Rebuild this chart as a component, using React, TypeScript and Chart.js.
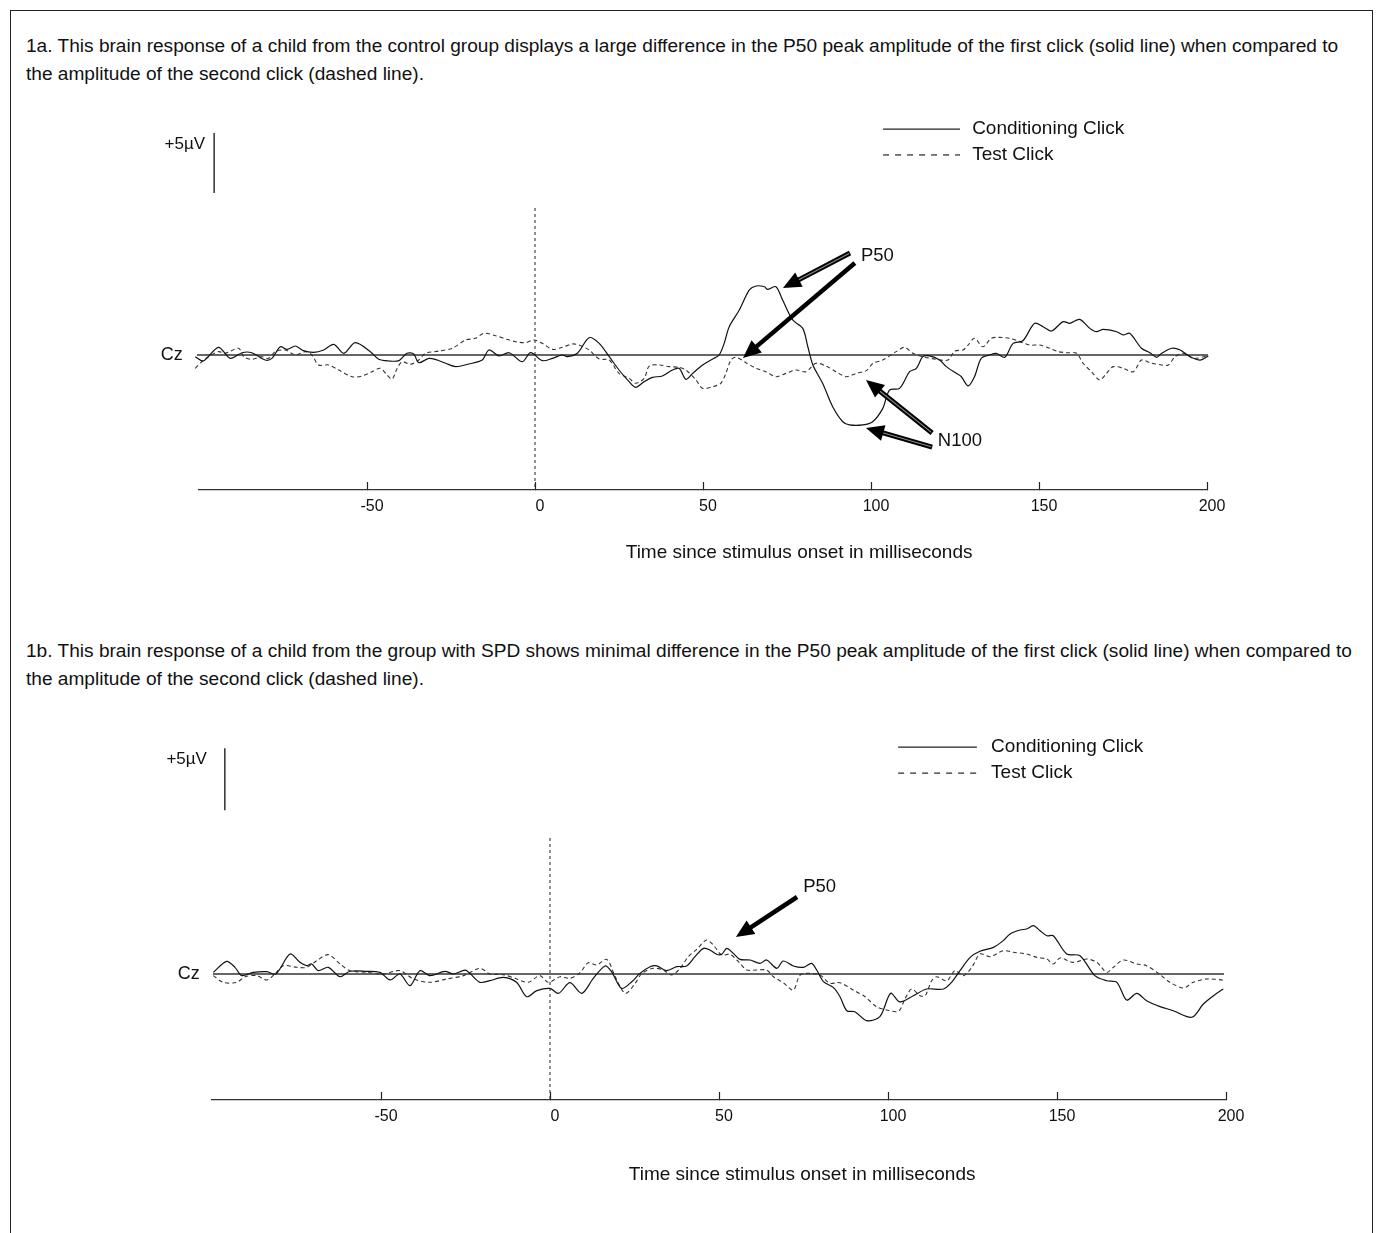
import React, { useEffect, useRef } from "react";
import { Chart, registerables } from "chart.js";

Chart.register(...registerables);

const FONT = '"Liberation Sans", Arial, sans-serif';

// ---------- data ----------
const tickValues = [-50, 0, 50, 100, 150, 200];
const seriesNames = ["Conditioning Click", "Test Click"];
const channelLabel = "Cz";
const scaleBarLabel = "+5\u00b5V";
const axisTitle = "Time since stimulus onset in milliseconds";

const captions1a = [
  "1a. This brain response of a child from the control group displays a large difference in the P50 peak amplitude of the first click (solid line) when compared to",
  "the amplitude of the second click (dashed line).",
];
const captions1b = [
  "1b. This brain response of a child from the group with SPD shows minimal difference in the P50 peak amplitude of the first click (solid line) when compared to",
  "the amplitude of the second click (dashed line).",
];

// [time ms, amplitude µV]
const conditioning1a: [number, number][] = [
  [-101.1, -0.14], [-98.7, -0.5], [-94.2, 0.64], [-90.7, -0.28], [-87.2, 0.19], [-84.3, 0.19],
  [-80.3, -0.42], [-78.3, -0.28], [-75.8, 0.69], [-73.8, 0.47], [-71.3, 0.75], [-68.9, 0.36],
  [-65.9, 0.22], [-62.9, 0.42], [-59.9, 0.89], [-56.9, 0.14], [-53.5, 1.03], [-49.0, 0.28],
  [-46.5, -0.36], [-43.5, -0.5], [-40.5, -0.47], [-38.1, 0.14], [-36.1, 0.08], [-34.6, -0.64],
  [-31.6, -0.28], [-29.1, -0.42], [-26.6, -0.69], [-23.6, -0.97], [-19.7, -0.75], [-15.7, -0.42],
  [-13.7, 0.42], [-10.7, -0.08], [-7.7, 0.19], [-3.8, -0.56], [-1.3, 0.19], [2.2, -0.47],
  [5.2, -0.28], [8.1, 0], [9.6, -0.14], [12.6, 0.14], [16.1, 1.44], [19.1, 0.97],
  [22.1, -0.14], [25.0, -1.25], [28.0, -2.22], [30.0, -2.69], [32.5, -2.22], [35.0, -1.86],
  [37.9, -1.75], [40.9, -1.25], [42.9, -1.11], [44.9, -2.03], [46.9, -1.53], [49.9, -0.83],
  [52.9, -0.33], [54.8, 0], [56.3, 0.97], [57.8, 2.36], [60.8, 3.75], [63.8, 5.42],
  [65.8, 5.75], [68.3, 5.69], [69.2, 5.47], [71.7, 5.69], [73.7, 4.58], [76.7, 2.92],
  [79.7, 2.22], [81.2, 0.69], [82.7, -0.83], [85.6, -2.36], [88.6, -4.31], [91.6, -5.56],
  [93.6, -5.83], [97.6, -5.83], [100.5, -5.56], [103.5, -4.45], [105.5, -2.92], [108.5, -2.78],
  [111.5, -1.39], [113.5, -1.11], [115.4, -0.14], [117.4, -0.08], [120.4, -0.42], [122.4, -0.97],
  [125.4, -1.53], [126.9, -1.81], [128.9, -2.58], [130.8, -1.81], [132.8, -0.28], [135.3, 0],
  [137.3, 0.14], [139.8, -0.19], [142.3, 0.97], [145.2, 1.19], [148.7, 2.64], [151.2, 2.36],
  [153.7, 2.0], [157.2, 2.78], [159.2, 2.64], [162.1, 2.97], [165.1, 2.22], [167.1, 1.94],
  [169.1, 2.14], [173.1, 1.94], [175.1, 1.67], [177.0, 1.81], [180.5, 0.56], [183.0, 0.19],
  [185.0, -0.19], [186.5, 0.14], [189.5, 0.56], [192.0, 0.42], [195.0, -0.14], [198.0, -0.42],
  [200.4, -0.08],
];

const test1a: [number, number][] = [
  [-101.1, -1.11], [-99.2, -0.56], [-97.2, -0.14], [-94.2, 0.28], [-92.2, 0.14], [-88.2, 0.56],
  [-86.7, -0.14], [-84.3, -0.36], [-81.3, -0.14], [-79.3, -0.28], [-77.3, 0.28], [-74.3, 0.42],
  [-71.3, 0], [-68.4, 0.28], [-66.4, 0], [-64.4, -0.83], [-61.4, -0.83], [-58.4, -1.25],
  [-54.4, -1.81], [-51.5, -1.75], [-48.5, -1.39], [-46.0, -1.11], [-44.0, -1.67], [-42.5, -2.0],
  [-41.0, -1.11], [-39.5, -0.56], [-37.1, -0.78], [-34.6, -0.42], [-32.6, 0.14], [-28.6, 0.33],
  [-24.6, 0.56], [-20.7, 1.25], [-17.7, 1.39], [-15.2, 1.81], [-11.7, 1.61], [-8.7, 1.33],
  [-5.8, 1.11], [-2.8, 1.03], [-0.3, 1.25], [2.2, 0.97], [5.2, 0.47], [8.1, 0.64],
  [11.1, 0.92], [13.1, 0.83], [16.1, 0.42], [19.1, -0.33], [22.1, -0.42], [25.0, -1.53],
  [28.0, -1.94], [30.0, -2.36], [32.5, -1.94], [34.0, -0.92], [37.0, -0.83], [39.9, -0.97],
  [42.9, -1.03], [44.9, -1.25], [47.9, -2.08], [49.9, -2.78], [52.9, -2.64], [55.3, -2.36],
  [56.8, -1.53], [58.3, -0.42], [59.8, -0.19], [62.8, -0.64], [65.8, -1.11], [68.7, -1.39],
  [71.7, -1.81], [74.7, -1.53], [77.7, -1.25], [80.7, -1.39], [83.6, -0.69], [86.6, -0.92],
  [89.6, -1.39], [92.6, -1.81], [95.6, -1.53], [98.6, -1.3], [100.6, -0.69], [103.5, -0.42],
  [107.5, 0.28], [110.0, 0.64], [112.5, 0.14], [115.4, -0.14], [119.4, -0.36], [122.9, -0.42],
  [124.9, 0.33], [127.4, 0.42], [128.9, 0.83], [130.8, 1.39], [133.3, 0.69], [135.8, 1.39],
  [138.3, 1.47], [141.3, 1.39], [144.3, 1.11], [147.2, 0.83], [150.2, 0.83], [153.2, 0.56],
  [155.7, 0.28], [158.2, 0.19], [161.2, 0.14], [163.1, -0.69], [165.6, -1.39], [168.1, -2.08],
  [170.1, -1.53], [172.1, -0.97], [175.1, -1.11], [178.1, -1.39], [180.5, -0.42], [183.0, -0.64],
  [186.5, -0.83], [188.5, -0.83], [190.5, -0.14], [193.0, 0.14], [196.0, -0.28], [200.0, -0.08],
];

const conditioning1b: [number, number][] = [
  [-99.6, 0.13], [-95.7, 1.02], [-93.2, 0.54], [-91.2, -0.13], [-87.8, 0.13], [-83.8, 0.19],
  [-81.1, 0], [-76.9, 1.61], [-74.0, 0.94], [-72.0, 0.67], [-70.5, 0.81], [-68.6, 0.27],
  [-65.6, 0.54], [-62.1, -0.22], [-59.2, 0.22], [-54.2, 0.22], [-50.3, 0.13], [-47.3, -0.48],
  [-44.4, 0], [-41.4, -0.94], [-38.5, 0.27], [-35.5, -0.13], [-31.1, 0.22], [-28.6, 0],
  [-25.1, 0.32], [-23.7, 0.05], [-20.7, -0.67], [-17.8, -0.54], [-13.8, -0.27], [-9.9, -0.67],
  [-6.9, -1.83], [-3.9, -1.34], [0, -1.16], [2.5, -1.56], [5.9, -0.7], [9.4, -1.56],
  [12.8, -0.35], [16.3, 0.65], [18.2, 0.19], [21.2, -1.16], [24.2, -0.62], [26.6, 0.05],
  [29.6, 0.59], [31.6, 0.65], [34.5, 0.27], [37.5, 0.59], [40.4, 0.65], [42.9, 1.4],
  [45.4, 2.07], [47.3, 1.94], [49.3, 1.59], [50.8, 1.59], [52.3, 2.07], [54.2, 1.67],
  [56.2, 1.18], [59.2, 1.13], [62.1, 0.86], [64.1, 1.13], [67.1, 0.46], [69.0, 1.05],
  [72.0, 0.65], [75.0, 0.54], [77.4, 0.86], [78.9, 0.32], [80.9, -0.62], [83.8, -1.08],
  [85.8, -1.83], [87.8, -2.96], [90.2, -3.04], [93.7, -3.76], [97.6, -3.44], [100.8, -1.56],
  [103.5, -2.25], [107.5, -1.75], [111.4, -1.21], [116.4, -1.21], [118.8, -0.67], [121.3, 0.27],
  [124.3, 1.34], [127.2, 1.83], [131.2, 2.15], [134.1, 2.69], [136.1, 3.23], [139.1, 3.55],
  [141.0, 3.63], [143.0, 3.9], [145.0, 3.49], [147.0, 3.09], [148.9, 3.09], [152.9, 1.61],
  [156.8, 1.48], [161.2, -0.13], [164.7, -0.54], [167.7, -0.67], [170.6, -2.1], [173.6, -1.56],
  [176.5, -2.15], [180.5, -2.63], [184.4, -2.96], [189.9, -3.49], [193.3, -2.42], [196.3, -1.75],
  [199.2, -1.21],
];

const test1b: [number, number][] = [
  [-99.6, -0.13], [-96.7, -0.67], [-92.7, -0.67], [-90.2, -0.22], [-86.8, -0.13], [-83.8, -0.48],
  [-81.4, 0], [-78.9, 0.67], [-74.9, 0.54], [-72.0, 0.54], [-69.0, 1.08], [-65.6, 1.56],
  [-62.1, 0.81], [-59.2, 0.27], [-54.2, 0.13], [-49.3, 0], [-44.4, 0.27], [-40.4, -0.4],
  [-35.5, -0.67], [-30.6, -0.4], [-25.6, -0.13], [-20.7, 0.46], [-17.8, 0], [-13.8, -0.05],
  [-9.9, -0.4], [-6.4, -0.67], [-3.0, -0.13], [-0.5, -0.67], [3.0, -0.22], [5.9, -0.35],
  [8.9, 0.11], [11.3, 0.91], [13.8, 0.73], [16.8, 1.18], [19.3, -0.22], [22.3, -1.56],
  [25.2, -0.75], [27.2, 0.05], [30.6, 0.46], [33.5, 0.32], [36.0, -0.08], [38.5, 0.46],
  [40.9, 1.4], [43.4, 1.99], [46.3, 2.74], [48.3, 2.34], [50.8, 1.53], [53.3, 1.59],
  [56.2, 0.86], [58.2, 0.32], [61.1, 0.32], [64.1, 0.32], [66.1, -0.22], [69.0, -0.7],
  [72.0, -1.29], [74.0, -0.08], [76.9, 0.05], [79.9, -0.08], [82.8, -0.75], [85.8, -0.7],
  [89.7, -1.29], [93.2, -1.83], [96.6, -2.63], [99.6, -2.9], [103.1, -3.0], [105.0, -2.02],
  [107.0, -1.21], [109.5, -1.75], [111.0, -1.75], [112.9, -0.54], [114.4, -0.22], [117.4, -0.54],
  [119.8, 0.27], [122.3, -0.13], [124.8, 0.54], [127.2, 1.61], [130.2, 1.4], [134.1, 1.88],
  [137.1, 1.75], [141.0, 1.61], [144.0, 1.34], [147.0, 1.21], [148.9, 0.81], [150.9, 1.29],
  [154.8, 0.94], [158.8, 1.21], [161.8, 0.94], [164.7, 0.13], [166.7, 0.54], [169.6, 1.13],
  [173.6, 0.81], [176.5, 0.67], [180.5, -0.05], [183.4, -0.67], [187.4, -1.13], [190.3, -0.67],
  [194.3, -0.4], [199.2, -0.48],
];

// ---------- panel configuration ----------
type Arrow = { from: [number, number]; to: [number, number]; hollow: boolean };
type Note = { text: string; at: [number, number]; size: number };

interface PanelCfg {
  cond: [number, number][];
  test: [number, number][];
  yMin: number;
  yMax: number;
  padLeft: number;
  padRight: number;
  padTop: number;
  axisHeight: number;
  canvasTop: number;
  canvasHeight: number;
  baseFrom: number;
  baseTo: number;
  zeroTop: number;
  legend: { x1: number; x2: number; xText: number; ySolid: number; yDash: number };
  scaleBar: { x: number; top: number; labelX: number; labelY: number };
  czX: number;
  titleT: number;
  titleDy: number;
  arrows: Arrow[];
  notes: Note[];
}

const panelA: PanelCfg = {
  cond: conditioning1a,
  test: test1a,
  yMin: -11.25,
  yMax: 20,
  padLeft: 188,
  padRight: 165,
  padTop: 15,
  axisHeight: 90,
  canvasTop: 89,
  canvasHeight: 480,
  baseFrom: -100.6,
  baseTo: 200.3,
  zeroTop: 12.25,
  legend: { x1: 103.6, x2: 126.5, xText: 130.1, ySolid: 18.83, yDash: 16.67 },
  scaleBar: { x: -95.5, top: 18.5, labelX: -98.2, labelY: 17.58 },
  czX: -104.8,
  titleT: 78.6,
  titleDy: 63,
  arrows: [
    { from: [93.75, 8.5], to: [73.8, 5.58], hollow: true },
    { from: [95.2, 7.67], to: [61.9, -0.25], hollow: false },
    { from: [118.2, -6.5], to: [98.5, -2.08], hollow: true },
    { from: [118.2, -7.67], to: [98.5, -6.08], hollow: true },
  ],
  notes: [
    { text: "P50", at: [97.0, 8.25], size: 18.5 },
    { text: "N100", at: [119.9, -7.17], size: 18.5 },
  ],
};

const panelB: PanelCfg = {
  cond: conditioning1b,
  test: test1b,
  yMin: -10.16,
  yMax: 20,
  padLeft: 201,
  padRight: 146,
  padTop: 11,
  axisHeight: 105,
  canvasTop: 704,
  canvasHeight: 490,
  baseFrom: -99.7,
  baseTo: 199.4,
  zeroTop: 10.97,
  legend: { x1: 103.0, x2: 126.3, xText: 130.5, ySolid: 18.3, yDash: 16.2 },
  scaleBar: { x: -96.2, top: 18.2, labelX: -101.5, labelY: 17.34 },
  czX: -103.6,
  titleT: 74.6,
  titleDy: 75,
  arrows: [{ from: [73.1, 6.21], to: [55.0, 2.98], hollow: false }],
  notes: [{ text: "P50", at: [74.9, 7.0], size: 18.5 }],
};

function drawArrow(
  ctx: CanvasRenderingContext2D,
  x1: number,
  y1: number,
  x2: number,
  y2: number,
  hollow: boolean
) {
  const ang = Math.atan2(y2 - y1, x2 - x1);
  const headLen = 18;
  const headW = 8;
  const cos = Math.cos(ang);
  const sin = Math.sin(ang);
  const bx = x2 - headLen * cos;
  const by = y2 - headLen * sin;
  ctx.save();
  ctx.setLineDash([]);
  ctx.lineCap = "butt";
  ctx.strokeStyle = "#000";
  ctx.lineWidth = hollow ? 5 : 4.5;
  ctx.beginPath();
  ctx.moveTo(x1, y1);
  ctx.lineTo(bx + 2 * cos, by + 2 * sin);
  ctx.stroke();
  if (hollow) {
    ctx.strokeStyle = "#8a8a8a";
    ctx.lineWidth = 1.1;
    ctx.beginPath();
    ctx.moveTo(x1 + 1 * cos, y1 + 1 * sin);
    ctx.lineTo(bx + 6 * cos, by + 6 * sin);
    ctx.stroke();
  }
  ctx.fillStyle = "#000";
  ctx.beginPath();
  ctx.moveTo(x2, y2);
  ctx.lineTo(bx - headW * sin, by + headW * cos);
  ctx.lineTo(bx + headW * sin, by - headW * cos);
  ctx.closePath();
  ctx.fill();
  ctx.restore();
}

function makeOverlay(cfg: PanelCfg) {
  return {
    id: "eegOverlay",
    afterDraw(chart: any) {
      const ctx: CanvasRenderingContext2D = chart.ctx;
      const xs = chart.scales.x;
      const ys = chart.scales.y;
      const X = (v: number) => xs.getPixelForValue(v);
      const Y = (v: number) => ys.getPixelForValue(v);
      ctx.save();
      ctx.fillStyle = "#111";
      ctx.textBaseline = "middle";

      // legend
      const lg = cfg.legend;
      ctx.strokeStyle = "#222";
      ctx.lineWidth = 1.2;
      ctx.setLineDash([]);
      ctx.beginPath();
      ctx.moveTo(X(lg.x1), Y(lg.ySolid));
      ctx.lineTo(X(lg.x2), Y(lg.ySolid));
      ctx.stroke();
      ctx.setLineDash([6, 6]);
      ctx.beginPath();
      ctx.moveTo(X(lg.x1), Y(lg.yDash));
      ctx.lineTo(X(lg.x2), Y(lg.yDash));
      ctx.stroke();
      ctx.setLineDash([]);
      ctx.font = `19px ${FONT}`;
      ctx.textAlign = "left";
      ctx.fillText(seriesNames[0], X(lg.xText), Y(lg.ySolid));
      ctx.fillText(seriesNames[1], X(lg.xText), Y(lg.yDash));

      // scale bar (5 µV)
      const sb = cfg.scaleBar;
      ctx.strokeStyle = "#111";
      ctx.lineWidth = 1.3;
      ctx.beginPath();
      ctx.moveTo(X(sb.x), Y(sb.top));
      ctx.lineTo(X(sb.x), Y(sb.top - 5));
      ctx.stroke();
      ctx.font = `17px ${FONT}`;
      ctx.textAlign = "right";
      ctx.fillText(scaleBarLabel, X(sb.labelX), Y(sb.labelY));

      // channel label
      ctx.font = `18px ${FONT}`;
      ctx.textAlign = "right";
      ctx.fillText(channelLabel, X(cfg.czX), Y(0));

      // axis title
      ctx.font = `19px ${FONT}`;
      ctx.textAlign = "center";
      ctx.fillText(axisTitle, X(cfg.titleT), chart.chartArea.bottom + cfg.titleDy);

      // annotations
      for (const a of cfg.arrows) {
        drawArrow(ctx, X(a.from[0]), Y(a.from[1]), X(a.to[0]), Y(a.to[1]), a.hollow);
      }
      for (const n of cfg.notes) {
        ctx.fillStyle = "#111";
        ctx.font = `${n.size}px ${FONT}`;
        ctx.textAlign = "left";
        ctx.fillText(n.text, X(n.at[0]), Y(n.at[1]));
      }
      ctx.restore();
    },
  };
}

function Panel({ cfg }: { cfg: PanelCfg }) {
  const ref = useRef<HTMLCanvasElement | null>(null);
  useEffect(() => {
    if (!ref.current) return;
    const chart = new Chart(ref.current, {
      type: "line",
      data: {
        datasets: [
          {
            label: seriesNames[0],
            data: cfg.cond.map(([x, y]) => ({ x, y })),
            borderColor: "#111",
            borderWidth: 1.2,
            pointRadius: 0,
            tension: 0.3,
            fill: false,
            clip: false,
          },
          {
            label: seriesNames[1],
            data: cfg.test.map(([x, y]) => ({ x, y })),
            borderColor: "#333",
            borderWidth: 1.1,
            borderDash: [4, 3],
            pointRadius: 0,
            tension: 0.3,
            fill: false,
            clip: false,
          },
          {
            label: "baseline",
            data: [
              { x: cfg.baseFrom, y: 0 },
              { x: cfg.baseTo, y: 0 },
            ],
            borderColor: "#333",
            borderWidth: 1.3,
            pointRadius: 0,
            tension: 0,
            clip: false,
          },
          {
            label: "onset",
            data: [
              { x: 0, y: cfg.zeroTop },
              { x: 0, y: cfg.yMin },
            ],
            borderColor: "#222",
            borderWidth: 1,
            borderDash: [3, 3],
            pointRadius: 0,
            tension: 0,
            clip: false,
          },
        ],
      } as any,
      options: {
        responsive: false,
        animation: false,
        events: [],
        layout: { padding: { left: cfg.padLeft, right: cfg.padRight, top: cfg.padTop, bottom: 0 } },
        plugins: { legend: { display: false }, tooltip: { enabled: false } },
        scales: {
          x: {
            type: "linear",
            min: -100,
            max: 200,
            afterBuildTicks: (s: any) => {
              s.ticks = tickValues.map((v) => ({ value: v }));
            },
            afterFit: (s: any) => {
              s.height = cfg.axisHeight;
            },
            grid: {
              display: true,
              drawOnChartArea: false,
              drawTicks: true,
              tickLength: -8,
              tickColor: "#222",
              tickWidth: 1.2,
            },
            border: { display: true, color: "#333", width: 1.2 },
            ticks: {
              font: { family: FONT, size: 16 },
              color: "#111",
              padding: 15,
              labelOffset: 5,
              maxRotation: 0,
              autoSkip: false,
              callback: (v: any) => String(v),
            },
          },
          y: { type: "linear", display: false, min: cfg.yMin, max: cfg.yMax },
        },
      } as any,
      plugins: [makeOverlay(cfg)],
    });
    return () => chart.destroy();
  }, [cfg]);
  return (
    <canvas
      ref={ref}
      width={1361}
      height={cfg.canvasHeight}
      style={{
        position: "absolute",
        left: 0,
        top: cfg.canvasTop,
        width: 1361,
        height: cfg.canvasHeight,
      }}
    />
  );
}

const captionStyle: React.CSSProperties = {
  position: "absolute",
  left: 15,
  fontFamily: FONT,
  fontSize: 19.1,
  lineHeight: "28px",
  color: "#111",
  whiteSpace: "nowrap",
};

export default function App() {
  return (
    <div
      style={{
        position: "fixed",
        left: 10,
        top: 10,
        width: 1363,
        height: 1223,
        boxSizing: "border-box",
        borderLeft: "1px solid #222",
        borderRight: "1px solid #222",
        borderTop: "1px solid #222",
        background: "#fff",
        overflow: "hidden",
      }}
    >
      <div style={{ ...captionStyle, top: 21 }}>
        {captions1a[0]}
        <br />
        {captions1a[1]}
      </div>
      <Panel cfg={panelA} />
      <div style={{ ...captionStyle, top: 626 }}>
        {captions1b[0]}
        <br />
        {captions1b[1]}
      </div>
      <Panel cfg={panelB} />
    </div>
  );
}
